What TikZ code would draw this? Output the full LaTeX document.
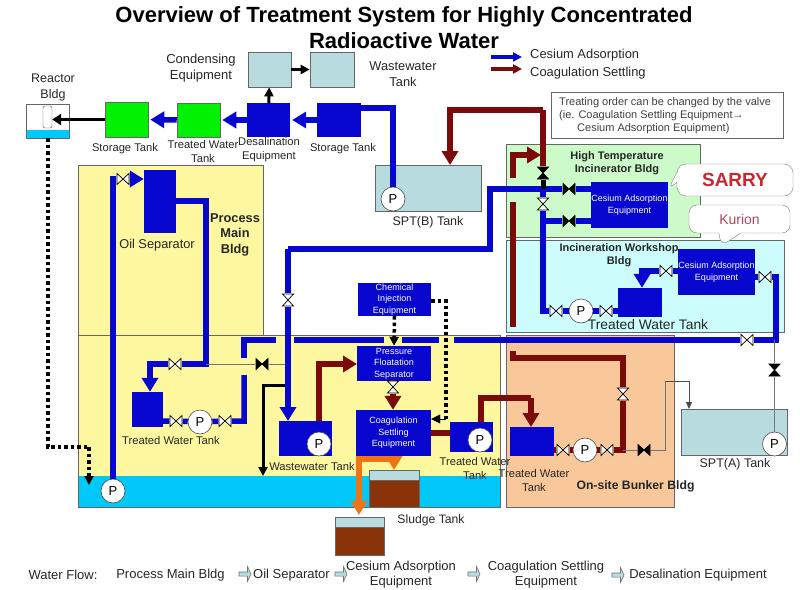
\documentclass[tikz,border=0pt]{standalone}
\usepackage{fontspec}
\setmainfont{Liberation Sans}
\usetikzlibrary{arrows.meta, positioning, shapes.arrows, shapes.callouts}
\definecolor{pipeblue}{HTML}{0707CF}
\definecolor{pipered}{HTML}{7B0A0A}
\definecolor{pipeorange}{HTML}{F07414}
\definecolor{tankgrey}{HTML}{B7DBDF}
\definecolor{sludge}{HTML}{8A3208}
\definecolor{poolblue}{HTML}{00C8F8}
\definecolor{zoneyellow}{HTML}{FDF8A0}
\definecolor{zonegreen}{HTML}{CCFAC8}
\definecolor{zonecyan}{HTML}{CCFCFC}
\definecolor{zoneorange}{HTML}{F8C89A}
\definecolor{sarryred}{HTML}{C8282E}
\definecolor{kurionred}{HTML}{B0485A}
\tikzset{%
  sized/.style 2 args={minimum width=#1pt, minimum height=#2pt, inner sep=0pt},
  txt/.style={font=\fontsize{#1}{14}\selectfont, align=center, inner sep=0pt, text=black!85},
  zone/.style={draw=black!60, line width=.7pt},
  tank/.style={draw=black!60, line width=.7pt, fill=tankgrey},
  bluebox/.style={fill=pipeblue, text=white, align=center, inner sep=0pt, font=\fontsize{9}{11.5}\selectfont},
  greenbox/.style={draw=black!60, line width=.5pt, fill=green!95!black},
  pump/.style={circle, draw=black!70, fill=white, line width=.6pt, minimum size=24pt, inner sep=0pt, font=\fontsize{13}{14}\selectfont},
  valvebase/.style={minimum width=13pt, minimum height=13pt, inner sep=0pt},
  hvalve/.style={valvebase, path picture={\draw[fill=#1, line width=.7pt, line join=miter] (-6,-5.5) -- (6,5.5) -- (6,-5.5) -- (-6,5.5) -- cycle;}},
  hvalve/.default=white,
  vvalve/.style={valvebase, path picture={\draw[fill=#1, line width=.7pt, line join=miter] (-5.5,-6) -- (5.5,-6) -- (-5.5,6) -- (5.5,6) -- cycle;}},
  vvalve/.default=white,
  bluepipe/.style={draw=pipeblue, line width=5.5pt},
  redpipe/.style={draw=pipered, line width=5.5pt},
  orangepipe/.style={draw=pipeorange, line width=5.5pt},
  blackpipe/.style={draw=black, line width=3pt},
  thinpipe/.style={draw=black!55, line width=.8pt},
  dotpipe/.style={draw=black, line width=3.5pt, dash pattern=on 3.5pt off 3pt},
  bigtip/.style={-{Triangle[length=14pt, width=16pt]}},
  smalltip/.style={-{Triangle[length=9pt, width=9pt]}},
  thintip/.style={-{Triangle[length=7pt, width=6pt]}},
  flowarrow/.style={single arrow, draw=black!55, fill=tankgrey, line width=.6pt, minimum width=15pt, minimum height=12pt, single arrow head extend=.8pt, single arrow tip angle=130, single arrow head indent=0pt, inner sep=0pt}
}

\begin{document}
\begin{tikzpicture}[x=1pt, y=-1pt]
\useasboundingbox (0,0) rectangle (800,589);

% buildings
\node[zone, sized={185}{170}, fill=zoneyellow] (mainup) at (170.5,250) {};
\node[zone, sized={422}{172}, fill=zoneyellow] (mainlow) at (289,421) {};
\node[sized={421}{31}, fill=poolblue] (pool) at (289,491.5) {};
\node[zone, sized={194}{93}, fill=zonegreen] (incin) at (603,190.5) {};
\node[zone, sized={278}{92}, fill=zonecyan] (workshop) at (645,286) {};
\node[zone, sized={168}{172}, fill=zoneorange] (bunker) at (590,421) {};

% top row
\node[tank, sized={43}{35}] (condense) at (269.5,69.5) {};
\node[tank, sized={44}{35}] (wastetop) at (332,69.5) {};
\node[greenbox, sized={43}{35}] (store1) at (126.5,119.5) {};
\node[greenbox, sized={43}{34}] (treated1) at (198.5,120) {};
\node[bluebox, sized={43}{34}] (desal) at (268.5,120) {};
\node[bluebox, sized={44}{34}] (store2) at (339,120) {};
\node[draw=black!60, sized={43}{34}] (reactor) at (47.5,121) {};
\node[sized={42}{8}, fill=poolblue] (reactorpool) at (47.5,134) {};
\node[draw=black!70, rounded corners=1.5pt, sized={9}{22}] (rod) at (47.5,117) {};

% tanks
\node[bluebox, sized={32}{63}] (oilsep) at (160,201.5) {};
\node[tank, sized={106}{46}] (sptb) at (428,188) {};
\node[tank, sized={106}{46}] (spta) at (734,432) {};
\node[bluebox, sized={75}{46}] (sarrybox) at (629.5,205) {Cesium Adsorption\\Equipment};
\node[bluebox, sized={75}{46}] (kurionbox) at (716.5,272) {Cesium Adsorption\\Equipment};
\node[bluebox, sized={44}{29}] (worktank) at (640,302.5) {};
\node[bluebox, sized={73}{33}] (chem) at (394.5,299.5) {Chemical\\Injection\\Equipment};
\node[bluebox, sized={74}{35}] (floatsep) at (394,363.5) {Pressure\\Floatation\\Separator};
\node[bluebox, sized={75}{46}] (coag) at (393.5,433) {Coagulation\\Settling\\Equipment};
\node[bluebox, sized={53}{35}] (wastelow) at (305.5,438.5) {};
\node[bluebox, sized={31}{35}] (treated2) at (147.5,409.5) {};
\node[bluebox, sized={43}{30}] (treated3) at (471.5,437) {};
\node[bluebox, sized={44}{29}] (treated4) at (532,441.5) {};
\node[tank, sized={50}{10}] (sludgetop1) at (394,475) {};
\node[draw=black!60, fill=sludge, sized={50}{27}, below=0pt of sludgetop1] (sludge1) {};
\node[tank, sized={49}{10}] (sludgetop2) at (359.5,522) {};
\node[draw=black!60, fill=sludge, sized={49}{28}, below=0pt of sludgetop2] (sludge2) {};

% pumps
\node[pump] (pumpmain) at (113,491) {P};
\node[pump] (pumptreated) at (200,422) {P};
\node[pump] (pumpwaste) at (319,444) {P};
\node[pump] (pumpb) at (393,199) {P};
\node[pump] (pumpwork) at (581,311) {P};
\node[pump] (pumpthree) at (480,440) {P};
\node[pump] (pumpbunker) at (585,450) {P};
\node[pump] (pumpa) at (774.5,444) {P};

% valves
\node[hvalve] (voil) at (123,179) {};
\node[hvalve] (vmain) at (175,364) {};
\node[hvalve] (vt1) at (176,421) {};
\node[hvalve] (vt2) at (225,421) {};
\node[vvalve] (vleft) at (288,300) {};
\node[hvalve=black] (vcross) at (262,364) {};
\node[vvalve] (vfloat) at (393,387) {};
\node[vvalve=black] (vred) at (543,173) {};
\node[vvalve] (vswitch) at (543,204) {};
\node[hvalve=black] (vin) at (569,189) {};
\node[hvalve=black] (vout) at (569,221) {};
\node[hvalve] (vw1) at (556,311) {};
\node[hvalve] (vw2) at (606,311) {};
\node[hvalve] (vk1) at (666,271) {};
\node[hvalve] (vk2) at (765,277) {};
\node[hvalve] (vret) at (747,340) {};
\node[vvalve=black] (vspta) at (774.5,370) {};
\node[vvalve] (vbunker) at (623,394) {};
\node[hvalve] (vb1) at (563,450) {};
\node[hvalve] (vb2) at (607,450) {};
\node[hvalve=black] (vb3) at (644,450) {};

% bends
\coordinate (oilbend) at (206,201);
\coordinate (gapa) at (244,375);
\coordinate (gapb) at (244,358);
\coordinate (gapc) at (276,340);
\coordinate (gapd) at (294,340);
\coordinate (gape) at (384,340);
\coordinate (gapf) at (402,340);
\coordinate (gapg) at (439,340);
\coordinate (gaph) at (454,340);
\coordinate (retbend) at (776,340);
\coordinate (sptbend) at (490,189);
\coordinate (midbend) at (288,249);
\coordinate (wastein) at (288,421);
\coordinate (junction) at (543,189);
\coordinate (workbend) at (543,311);
\coordinate (redtop) at (543,110);
\coordinate (redin) at (450,165);
\coordinate (redstart) at (513,178);
\coordinate (redtip) at (541,155);
\coordinate (barup) at (513,202);
\coordinate (bardown) at (513,327);
\coordinate (bunkstart) at (513,351);
\coordinate (bunkbend) at (623,358);
\coordinate (bunkdown) at (623,450);
\coordinate (thinout) at (665,450);
\coordinate (thinbend) at (665,381);
\coordinate (thinend) at (689,409);
\coordinate (wasteout) at (319,421);
\coordinate (floatin) at (357,364);
\coordinate (threeout) at (481,422);
\coordinate (threetop) at (531,398);
\coordinate (fourin) at (531,427);
\coordinate (branch) at (288,385);
\coordinate (poolhit) at (263,476);
\coordinate (orangea) at (394,459);
\coordinate (orangec) at (359,495);
\coordinate (orangeb) at (359,515);
\coordinate (orangetip) at (394,470);
\coordinate (chemout) at (446,301);
\coordinate (chemin) at (446,419);
\coordinate (dripbend) at (89,447);
\coordinate (dripend) at (89,485);
\coordinate (drywell) at (48,447);
\coordinate (crossend) at (287,364);

% upper pipes
\draw[bluepipe] (store2.east |- 0,108) -| (pumpb);
\draw[bluepipe, bigtip, shorten >=2pt] (store2) -- (desal);
\draw[bluepipe, bigtip, shorten >=2pt] (desal) -- (treated1);
\draw[bluepipe, bigtip, shorten >=2pt] (treated1) -- (store1);
\draw[blackpipe, -{Triangle[length=9pt, width=11pt]}] (store1.west) -- (rod.east |- store1.west);
\draw[blackpipe, smalltip] (desal) -- (condense);
\draw[blackpipe, smalltip] (condense) -- (wastetop);
\draw[dotpipe] (reactorpool.south -| drywell) -- (drywell) -- (dripbend);
\draw[dotpipe, smalltip] (dripbend) -- (dripend);

% main building pipes
\draw[bluepipe] (pumpmain) |- (voil);
\draw[bluepipe, bigtip] (voil) -- (oilsep.west |- voil);
\draw[bluepipe] (oilsep.east |- oilbend) -- (oilbend) |- (vmain);
\draw[bluepipe, bigtip] (vmain) -| ([xshift=2.5pt]treated2.north);
\draw[bluepipe] (treated2.east |- vt1) -- (vt1) -- (pumptreated) -- (vt2) -| (gapa);
\draw[bluepipe] (gapb) |- (gapc);
\draw[bluepipe] (gapd) -- (gape);
\draw[bluepipe] (gapf) -- (gapg);
\draw[bluepipe] (gaph) -- (vret);
\draw[bluepipe] (vret) -- (retbend) |- (vk2);
\draw[bluepipe] (vk2) -- (kurionbox.east |- vk2);
\draw[thinpipe] (oilbend |- vcross) -- (vcross) -- (crossend);
\draw[blackpipe, smalltip] (branch) -| (poolhit);

% incinerator pipes
\draw[bluepipe] (sarrybox.west |- vin) -- (vin);
\draw[bluepipe] (vin) -- (sptbend) |- (midbend);
\draw[bluepipe] (midbend) -- (vleft);
\draw[bluepipe, bigtip] (vleft) -- (wastein);
\draw[bluepipe] (sarrybox.west |- vout) -- (vout);
\draw[bluepipe] (vout) -| (vswitch);
\draw[bluepipe] (junction) -- (vswitch);
\draw[bluepipe] (vswitch) |- (vw1);
\draw[bluepipe] (vw1) -- (pumpwork) -- (vw2) -- (worktank.west |- vw2);
\draw[bluepipe] (kurionbox.west |- vk1) -- (vk1);
\draw[bluepipe, bigtip] (vk1) -| ([xshift=2pt]worktank.north);
\draw[black, line width=5pt] (vred) -- (junction);

% coagulation pipes
\draw[redpipe] (vred) |- (redtop);
\draw[redpipe, bigtip] (redtop) -| (redin);
\draw[redpipe, bigtip] (redstart) |- (redtip);
\draw[redpipe] (barup) -- (bardown);
\draw[redpipe] (bunkstart) |- (bunkbend) -- (vbunker);
\draw[redpipe] (vbunker) -- (bunkdown) -- (vb2);
\draw[redpipe] (vb2) -- (pumpbunker) -- (vb1) -- (treated4.east |- vb1);
\draw[thinpipe] (bunkdown) -- (vb3) -- (thinout) -- (thinbend);
\draw[thinpipe, thintip, black!70] (thinbend) -| (thinend);
\draw[thinpipe] (pumpa) -- (vspta) -- (vspta |- retbend);
\draw[redpipe, bigtip] (wasteout) |- (floatin);
\draw[redpipe, bigtip] (vfloat) -- (coag.north -| vfloat);
\draw[redpipe] (floatsep.south -| vfloat) -- (vfloat);
\draw[redpipe] (coag.east) -- (treated3.west |- coag.east);
\draw[redpipe] (threeout) |- (threetop);
\draw[redpipe, bigtip] (threetop) -- (fourin);
\draw[orangepipe] (orangea) -| (orangec);
\draw[orangepipe, bigtip] (orangec) -- (orangeb);
\draw[orangepipe, bigtip] (coag.south -| orangea) -- (orangetip);

% chemical feed
\draw[dotpipe, smalltip] (chem.south) -- (floatsep.north);
\draw[dotpipe] (chem.east |- chemout) -- (chemout) -- (chemin);
\draw[black, -{Triangle[length=9pt, width=9pt]}] (chemin) -- (coag.east |- chemin);

% heading
\node[font=\fontsize{22}{26}\selectfont\bfseries, align=center, inner sep=0pt] (title) at (404,27.5) {Overview of Treatment System for Highly Concentrated\\Radioactive Water};
\node[txt=12.9, anchor=west] (legblue) at (530,55) {Cesium Adsorption};
\node[txt=12.9, anchor=west] (legred) at (530,73) {Coagulation Settling};
\coordinate (legbluea) at (491,57);
\coordinate (legblueb) at (522,57);
\coordinate (legreda) at (491,69);
\coordinate (legredb) at (522,69);
\draw[draw=pipeblue, line width=3.5pt, -{Triangle[length=9pt, width=9pt]}] (legbluea) -- (legblueb);
\draw[draw=pipered, line width=3.5pt, -{Triangle[length=9pt, width=9pt]}] (legreda) -- (legredb);
\node[draw=black!60, line width=.8pt, fill=white, sized={232}{46}] (note) at (667,115) {};
\node[txt=11, anchor=west, align=left, text=black!75] (notetext) at (559,116) {Treating order can be changed by the valve\\[-1pt](ie. Coagulation Settling Equipment→\\[-1pt]\hspace*{18pt}Cesium Adsorption Equipment)};

% vendor callouts
\node[rectangle callout, rounded corners=9pt, draw=black!50, fill=white, sized={116}{32}, callout absolute pointer={(668,190)}, callout pointer width=10pt, font=\fontsize{19}{20}\selectfont\bfseries, text=sarryred] (sarry) at (735,180) {SARRY};
\node[rectangle callout, rounded corners=8pt, draw=black!50, fill=white, sized={101}{28}, callout absolute pointer={(721,246)}, callout pointer width=22pt, font=\fontsize{14}{16}\selectfont, text=kurionred] (kurion) at (739.5,219) {Kurion};

% labels
\node[txt=13] (lcond) at (201,68) {Condensing\\[2pt]Equipment};
\node[txt=12.5] (lreact) at (53,87) {Reactor\\[2pt]Bldg};
\node[txt=12.8] (lwaste) at (403,74) {Wastewater\\[2pt]Tank};
\node[txt=11.2] (lstore1) at (125,149) {Storage Tank};
\node[txt=11.2] (ltreat1) at (203,151.5) {Treated Water\\Tank};
\node[txt=11.2] (ldesal) at (269,149.5) {Desalination\\Equipment};
\node[txt=11.2] (lstore2) at (343,149) {Storage Tank};
\node[txt=12.8] (loil) at (157,245) {Oil Separator};
\node[txt=12.8, font=\fontsize{12.8}{15.5}\selectfont\bfseries] (lmain) at (235,234.5) {Process\\Main\\Bldg};
\node[txt=12.5] (lsptb) at (428,222) {SPT(B) Tank};
\node[txt=13.8] (lwork) at (648,325) {Treated Water Tank};
\node[txt=11, font=\fontsize{11}{12.5}\selectfont\bfseries] (lincin) at (617,163) {High Temperature\\Incinerator Bldg};
\node[txt=11, font=\fontsize{11}{13}\selectfont\bfseries] (lshop) at (619,255.5) {Incineration Workshop\\Bldg};
\node[txt=11.2] (ltreat2) at (171,440) {Treated Water Tank};
\node[txt=11.2] (lwaste2) at (312,466) {Wastewater Tank};
\node[txt=11.2] (ltreat3) at (475,468.5) {Treated Water\\Tank};
\node[txt=11.2] (ltreat4) at (534,480.5) {Treated Water\\Tank};
\node[txt=12, font=\fontsize{12.2}{14}\selectfont\bfseries] (lbunker) at (635.5,486) {On-site Bunker Bldg};
\node[txt=12.5] (lspta) at (735,464) {SPT(A) Tank};
\node[txt=12.2] (lsludge) at (431,520) {Sludge Tank};

% water flow row
\node[txt=13] (flowhead) at (63,575) {Water Flow:};
\node[txt=13] (flowmain) at (170.5,575) {Process Main Bldg};
\node[flowarrow] (flow1) at (244.5,574) {};
\node[txt=13] (flowoil) at (291.5,575) {Oil Separator};
\node[flowarrow] (flow2) at (340.5,574) {};
\node[txt=13, font=\fontsize{13}{15.5}\selectfont] (flowcs) at (401,574.5) {Cesium Adsorption\\Equipment};
\node[flowarrow] (flow3) at (473.5,574) {};
\node[txt=13, font=\fontsize{13}{15.5}\selectfont] (flowcoag) at (546,574.5) {Coagulation Settling\\Equipment};
\node[flowarrow] (flow4) at (617.5,575) {};
\node[txt=13] (flowdes) at (698,575) {Desalination Equipment};
\end{tikzpicture}
\end{document}
